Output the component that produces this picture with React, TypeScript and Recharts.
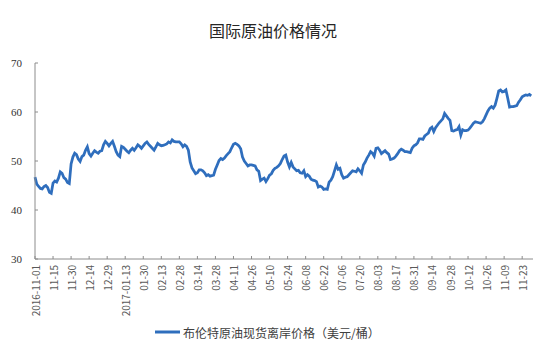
import { Line, LineChart, XAxis, YAxis } from "recharts";

// 布伦特原油现货离岸价格, one value per trading day, 2016-11-01 .. ~2017-11-30
const brentPrice = [
  46.7, 45.3, 44.8, 44.4, 44.3, 44.8, 45.0, 44.6, 43.6, 43.4,
  45.5, 45.9, 45.7, 46.5, 47.8, 47.5, 46.6, 46.3, 45.6, 45.4,
  49.4, 50.8, 51.6, 51.3, 50.4, 49.9, 50.9, 51.2, 52.2, 52.9,
  51.5, 51.0, 51.6, 52.1, 51.8, 51.6, 52.0, 52.1, 53.3, 54.0,
  53.6, 53.1, 53.6, 54.0, 53.0, 51.9, 51.2, 50.9, 53.0, 52.8,
  52.4, 52.0, 51.7, 52.2, 52.6, 52.2, 52.7, 53.3, 53.0, 52.6,
  53.1, 53.6, 53.9, 53.4, 53.0, 52.6, 52.2, 52.9, 53.6, 53.3,
  53.1, 53.2, 53.3, 53.5, 53.9, 53.7, 54.3, 54.0, 53.9, 53.9,
  53.9, 53.5, 52.9, 53.3, 53.0, 52.2, 49.8, 48.6, 48.0, 47.4,
  47.6, 48.2, 48.2, 48.0, 47.6, 47.0, 47.2, 46.9, 47.0, 47.1,
  48.3, 49.2, 50.1, 50.5, 50.3, 50.6, 51.1, 51.5, 51.9, 52.7,
  53.4, 53.6, 53.4, 53.1, 52.5, 50.8, 50.0, 49.5, 49.0, 49.2,
  49.2, 49.1, 49.0, 48.2, 47.9, 46.0, 46.3, 46.5, 45.8, 46.4,
  47.1, 47.4, 48.1, 48.5, 48.7, 49.0, 49.5, 50.3, 51.0, 51.2,
  49.8, 48.8, 49.7, 48.8, 48.4, 48.0, 48.1, 47.6, 47.5, 48.0,
  46.8, 47.2, 46.9, 46.3, 46.1, 46.0, 45.8, 44.7, 44.9, 44.7,
  44.2, 44.3, 44.2, 45.7, 46.1, 46.8, 48.0, 49.2, 48.3, 48.5,
  47.2, 46.5, 46.7, 46.8, 47.2, 47.6, 48.0, 47.9, 47.8, 48.4,
  48.0, 47.5, 49.2, 49.8, 50.6, 51.2, 51.9, 51.6, 51.0, 52.6,
  52.7, 52.2, 51.5, 51.8, 52.1, 51.7, 51.4, 50.3, 50.4, 50.6,
  51.0, 51.5, 52.1, 52.4, 52.2, 51.9, 51.9, 51.8, 51.7, 52.6,
  53.1, 53.3, 53.7, 54.5, 54.5, 54.4, 55.1, 55.4, 55.7, 56.6,
  56.9, 56.0, 56.8, 57.3, 57.8, 58.2, 58.6, 59.7, 59.2, 58.7,
  58.3, 56.2, 56.1, 56.3, 56.4, 57.0, 55.3, 56.4, 56.2, 56.2,
  56.3, 56.7, 57.2, 57.7, 58.0, 57.9, 57.8, 57.7, 58.0, 58.6,
  59.4, 60.2, 60.8, 61.1, 60.8, 61.4, 62.8, 64.3, 64.5, 64.1,
  64.2, 64.5, 62.8, 61.0, 61.1, 61.1, 61.2, 61.3, 62.0, 62.5,
  63.1, 63.3, 63.5, 63.4, 63.6, 63.3,
];

// one label every 10 trading days
const dateLabels = [
  "2016-11-01", "11-15", "11-30", "12-14", "12-29", "2017-01-13", "01-30",
  "02-13", "02-28", "03-14", "03-28", "04-11", "04-26", "05-10", "05-24",
  "06-08", "06-22", "07-06", "07-20", "08-03", "08-17", "08-31", "09-14",
  "09-28", "10-12", "10-26", "11-09", "11-23",
];

const yTicks = [30, 40, 50, 60, 70];

const LINE_COLOR = "#2f6ebd";
const AXIS_COLOR = "#8c8c8c";

const chartData = brentPrice.map((price, idx) => ({ idx, price }));
const xTicks = dateLabels.map((_, i) => i * 10);

const XTick = (props: any) => {
  const { x, y, payload } = props;
  const label = dateLabels[Math.round(payload.value / 10)] ?? "";
  const axisY = y - 6;
  return (
    <g>
      <line x1={x} y1={axisY} x2={x} y2={axisY - 3} stroke={AXIS_COLOR} />
      <text
        x={x}
        y={y}
        transform={`rotate(-90 ${x} ${y})`}
        textAnchor="end"
        dominantBaseline="central"
        fontSize={10}
        fontFamily="'Noto Sans CJK SC', sans-serif"
        fill="#595959"
      >
        {label}
      </text>
    </g>
  );
};

const YTick = (props: any) => {
  const { x, y, payload } = props;
  const axisX = x + 13;
  return (
    <g>
      <line x1={axisX} y1={y} x2={axisX + 3} y2={y} stroke={AXIS_COLOR} />
      <text
        x={x}
        y={y}
        textAnchor="end"
        dominantBaseline="central"
        fontSize={11}
        fontFamily="'Liberation Serif', serif"
        fill="#333"
      >
        {payload.value}
      </text>
    </g>
  );
};

export default function App() {
  return (
    <div style={{ position: "absolute", left: 0, top: 0, width: 546, height: 357, background: "#fff" }}>
      <div
        style={{
          position: "absolute",
          top: 21,
          width: 546,
          textAlign: "center",
          fontFamily: "'Noto Sans CJK SC', sans-serif",
          fontSize: 16,
          lineHeight: "18px",
          color: "#262626",
        }}
      >
        国际原油价格情况
      </div>

      <LineChart
        width={546}
        height={357}
        data={chartData}
        margin={{ top: 63, right: 13, bottom: 38, left: 0 }}
      >
        <XAxis
          type="number"
          dataKey="idx"
          domain={[0, 276]}
          ticks={xTicks}
          interval={0}
          tickSize={0}
          tickMargin={6}
          height={60}
          stroke={AXIS_COLOR}
          tick={<XTick />}
        />
        <YAxis
          domain={[30, 70]}
          ticks={yTicks}
          width={35}
          tickSize={0}
          tickMargin={13}
          stroke={AXIS_COLOR}
          tick={<YTick />}
        />
        <Line
          type="linear"
          dataKey="price"
          stroke={LINE_COLOR}
          strokeWidth={2.75}
          dot={false}
          isAnimationActive={false}
        />
      </LineChart>

      {/* legend */}
      <svg style={{ position: "absolute", left: 0, top: 320 }} width={546} height={24}>
        <line x1={155} y1={12} x2={180} y2={12} stroke={LINE_COLOR} strokeWidth={3} />
        <text
          x={183}
          y={12}
          dominantBaseline="central"
          fontSize={12}
          fontFamily="'Noto Sans CJK SC', sans-serif"
          fill="#404040"
        >
          布伦特原油现货离岸价格（美元/桶）
        </text>
      </svg>
    </div>
  );
}
